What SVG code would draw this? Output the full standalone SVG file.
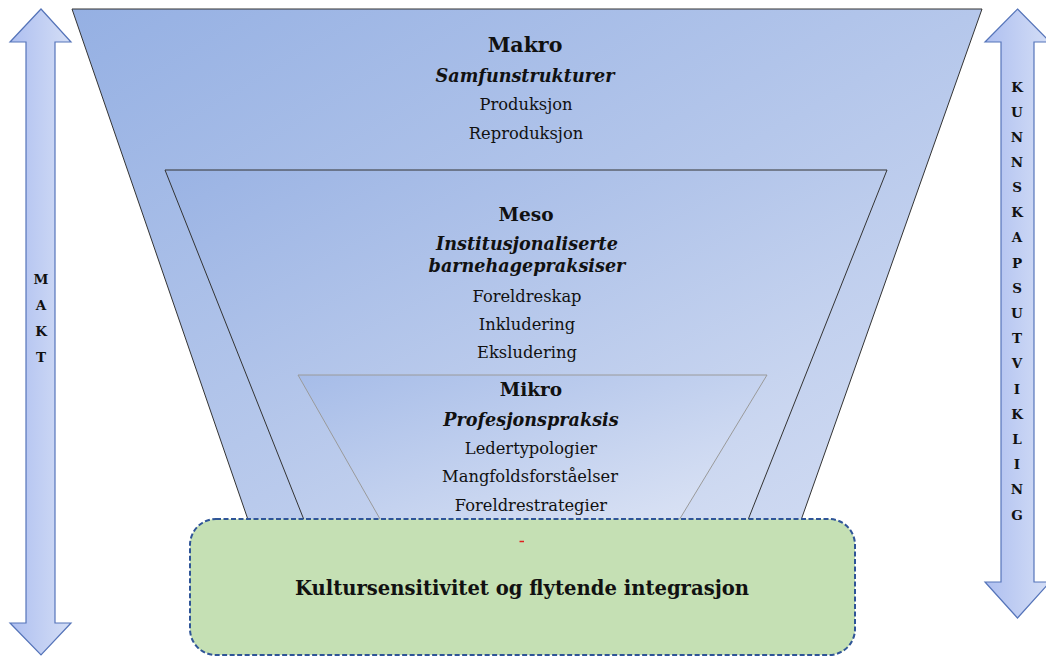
<svg xmlns="http://www.w3.org/2000/svg" width="1046" height="656" viewBox="0 0 1046 656">
<style>
.t{font-family:"DejaVu Serif","Liberation Serif",serif;fill:#111;text-anchor:middle;dominant-baseline:central}
.h{font-weight:bold;font-size:18.5px}
.i{font-weight:bold;font-style:italic;font-size:17.6px}
.r{font-size:16.3px}
.l{font-weight:bold;font-size:13.5px}
.trap{stroke:#333;stroke-width:1}
.arrow{fill:url(#ga);stroke:#5574b9;stroke-width:1.2}
</style>
<defs>
<linearGradient id="gb" x1="0" y1="0" x2="1" y2="1">
<stop offset="0" stop-color="#95b0e3"/>
<stop offset="1" stop-color="#d5def3"/>
</linearGradient>
<linearGradient id="gm" x1="0" y1="0" x2="1" y2="1">
<stop offset="0" stop-color="#9ab3e4"/>
<stop offset="1" stop-color="#dae2f4"/>
</linearGradient>
<linearGradient id="gk" x1="0" y1="0" x2="1" y2="1">
<stop offset="0" stop-color="#a6bce8"/>
<stop offset="1" stop-color="#e2e8f6"/>
</linearGradient>
<linearGradient id="ga" x1="0" y1="0" x2="1" y2="0">
<stop offset="0" stop-color="#aebff0"/>
<stop offset="1" stop-color="#d4def6"/>
</linearGradient>
</defs>

<g id="makt-arrow">
<polygon class="arrow" points="41,9 71,42 55,42 55,623 71,623 41,655 10,623 26,623 26,42 10,42"/>
<text class="t l" x="41" y="279">M</text>
<text class="t l" x="41" y="305">A</text>
<text class="t l" x="41" y="331">K</text>
<text class="t l" x="41" y="357">T</text>
</g>

<g id="kunnskap-arrow">
<polygon class="arrow" points="1017.5,9 1050,42 1034,42 1034,582 1050,582 1017.5,618 985,582 1001,582 1001,42 985,42"/>
<text class="t l" x="1017" y="87">K</text>
<text class="t l" x="1017" y="112">U</text>
<text class="t l" x="1017" y="137">N</text>
<text class="t l" x="1017" y="162">N</text>
<text class="t l" x="1017" y="187">S</text>
<text class="t l" x="1017" y="212">K</text>
<text class="t l" x="1017" y="237">A</text>
<text class="t l" x="1017" y="263">P</text>
<text class="t l" x="1017" y="288">S</text>
<text class="t l" x="1017" y="313">U</text>
<text class="t l" x="1017" y="338">T</text>
<text class="t l" x="1017" y="363">V</text>
<text class="t l" x="1017" y="389">I</text>
<text class="t l" x="1017" y="414">K</text>
<text class="t l" x="1017" y="439">L</text>
<text class="t l" x="1017" y="464">I</text>
<text class="t l" x="1017" y="489">N</text>
<text class="t l" x="1017" y="515">G</text>
</g>

<g id="makro">
<polygon class="trap" fill="url(#gb)" points="72,9 982,9 794,540 255,540"/>
<text class="t h" x="525" y="45" style="font-size:20.5px">Makro</text>
<text class="t i" x="525" y="75">Samfunstrukturer</text>
<text class="t r" x="526" y="104">Produksjon</text>
<text class="t r" x="526" y="133">Reproduksjon</text>
</g>

<g id="meso">
<polygon class="trap" fill="url(#gm)" points="165,170 887,170 740,540 312,540"/>
<text class="t h" x="526" y="214">Meso</text>
<text class="t i" x="527" y="243">Institusjonaliserte</text>
<text class="t i" x="527" y="265">barnehagepraksiser</text>
<text class="t r" x="527" y="296">Foreldreskap</text>
<text class="t r" x="527" y="324">Inkludering</text>
<text class="t r" x="527" y="352">Eksludering</text>
</g>

<g id="mikro">
<polygon fill="url(#gk)" stroke="#9a9a9a" stroke-width="1" points="298,375 767,375 667,540 392,540"/>
<text class="t h" x="531" y="389">Mikro</text>
<text class="t i" x="531" y="419">Profesjonspraksis</text>
<text class="t r" x="531" y="448">Ledertypologier</text>
<text class="t r" x="530" y="476">Mangfoldsforståelser</text>
<text class="t r" x="531" y="505">Foreldrestrategier</text>
</g>

<g id="kultursensitivitet">
<rect x="190" y="519" width="665" height="136" rx="26" fill="#c5e0b4" stroke="#2f5597" stroke-width="2" stroke-dasharray="5 2.5"/>
<line x1="519.5" y1="541.5" x2="524" y2="541.5" stroke="#e02020" stroke-width="1.5"/>
<text class="t h" x="522" y="588" style="font-size:19.6px">Kultursensitivitet og flytende integrasjon</text>
</g>

<g id="connectors"></g>
</svg>
